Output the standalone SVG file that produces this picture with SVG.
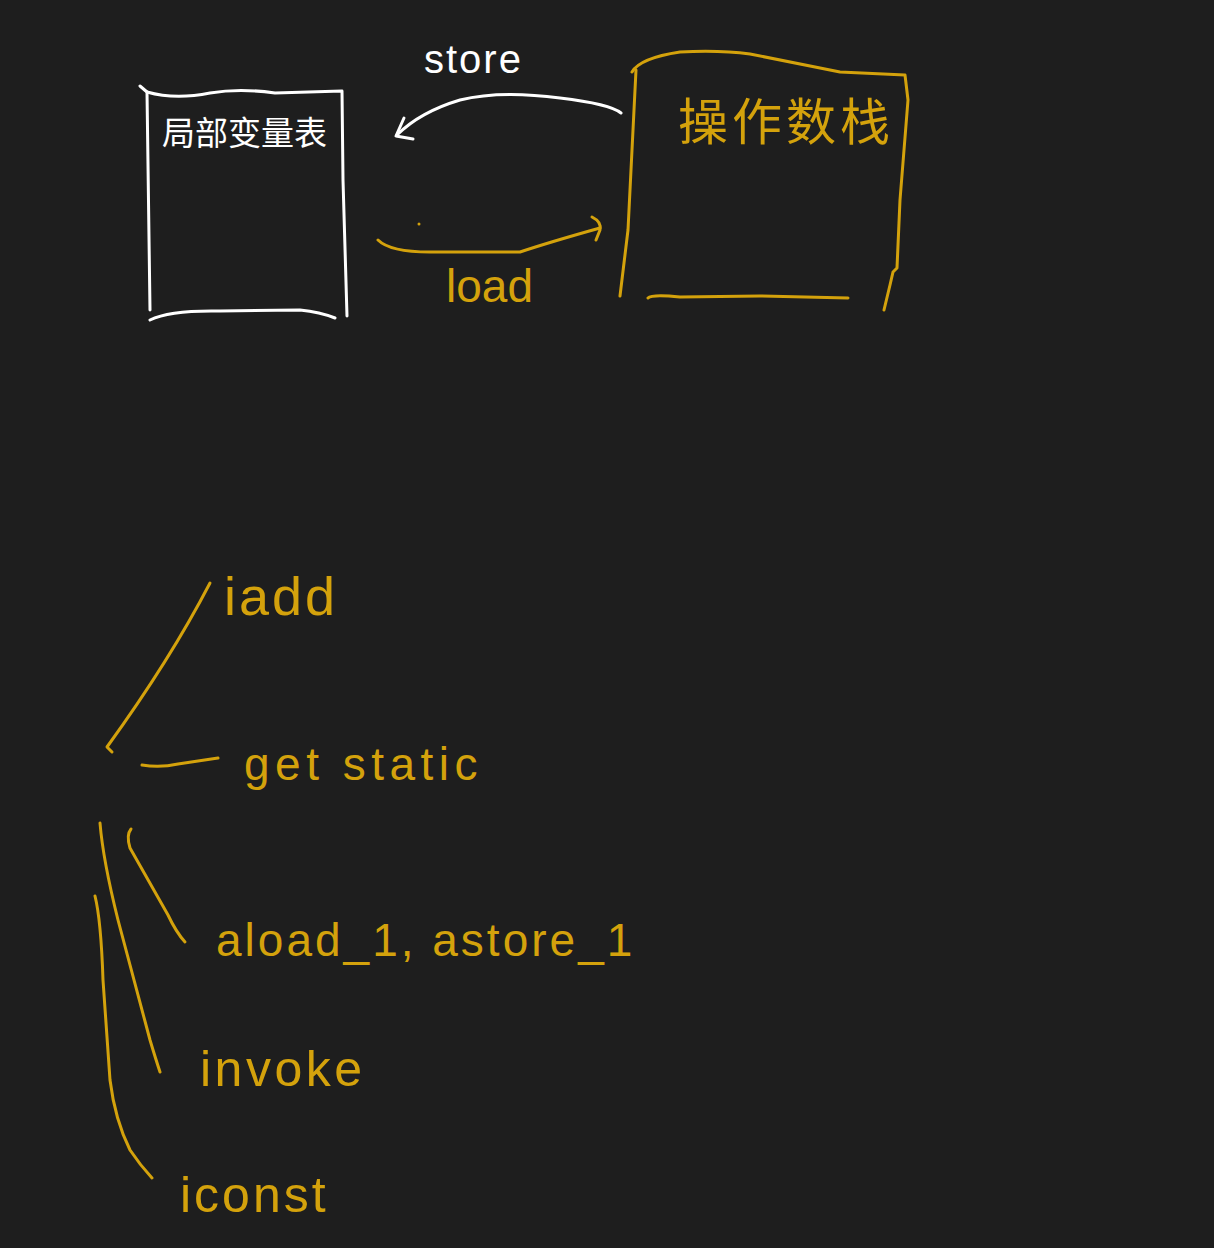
<svg xmlns="http://www.w3.org/2000/svg" width="1214" height="1248" viewBox="0 0 1214 1248">
<style>
.w{fill:none;stroke:#ffffff;stroke-width:3;stroke-linecap:round;stroke-linejoin:round}
.y{fill:none;stroke:#d4a20c;stroke-width:3;stroke-linecap:round;stroke-linejoin:round}
.tw{fill:#ffffff;font-family:"Liberation Sans","Noto Sans CJK SC",sans-serif}
.ty{fill:#d4a20c;font-family:"Liberation Sans","Noto Sans CJK SC",sans-serif}
</style>
<rect width="1214" height="1248" fill="#1e1e1e"/>
<g id="local-var-table">
<path class="w" d="M140,86 L147,92 L150,310"/>
<path class="w" d="M147,92 Q175,100 210,93 Q240,88 275,93 L342,91 L343,180 L347,316"/>
<path class="w" d="M150,320 Q170,310 220,311 L300,310 Q320,312 335,318"/>
<text class="tw" x="162" y="145" font-size="33">局部变量表</text>
</g>
<g id="operand-stack">
<path class="y" d="M632,72 Q640,58 680,52 Q720,50 750,54 Q790,62 840,72 L905,75 L908,100 L900,200 L897,268 L893,272 L890,285 L884,310"/>
<path class="y" d="M636,70 L632,150 L628,230 L620,296"/>
<path class="y" d="M648,298 Q652,294 680,297 L760,296 L848,298"/>
<text class="ty" x="678" y="140" font-size="50" letter-spacing="4">操作数栈</text>
</g>
<g id="connectors">
<path class="w" d="M621,113 Q610,104 560,98 Q500,90 460,100 Q420,112 397,135"/>
<path class="w" d="M404,118 L396,136 L413,139"/>
<path class="y" d="M378,240 Q390,252 430,252 L520,252 Q550,242 600,228"/>
<path class="y" d="M592,217 Q602,222 600,230 L596,240"/>
<circle cx="419" cy="224" r="1.5" fill="#d4a20c"/>
<path class="y" d="M210,583 Q170,660 107,747 L112,752"/>
<path class="y" d="M142,765 Q160,768 178,764 L218,758"/>
<path class="y" d="M131,829 Q126,835 130,848 L168,915 Q176,932 185,942"/>
<path class="y" d="M100,823 Q103,860 118,920 L150,1040 Q156,1060 160,1072"/>
<path class="y" d="M95,896 Q101,920 103,980 L110,1080 Q115,1120 130,1150 Q140,1165 152,1178"/>
</g>
<g id="store-label"><text class="tw" x="424" y="73" font-size="40" letter-spacing="2">store</text></g>
<g id="load-label"><text class="ty" x="446" y="302" font-size="46">load</text></g>
<g id="iadd"><text class="ty" x="224" y="615" font-size="54" letter-spacing="3">iadd</text></g>
<g id="getstatic"><text class="ty" x="244" y="780" font-size="46" letter-spacing="5.5">get static</text></g>
<g id="aload"><text class="ty" x="216" y="956" font-size="46" letter-spacing="3">aload_1, astore_1</text></g>
<g id="invoke"><text class="ty" x="200" y="1086" font-size="50" letter-spacing="3.5">invoke</text></g>
<g id="iconst"><text class="ty" x="180" y="1212" font-size="50" letter-spacing="3">iconst</text></g>
</svg>
